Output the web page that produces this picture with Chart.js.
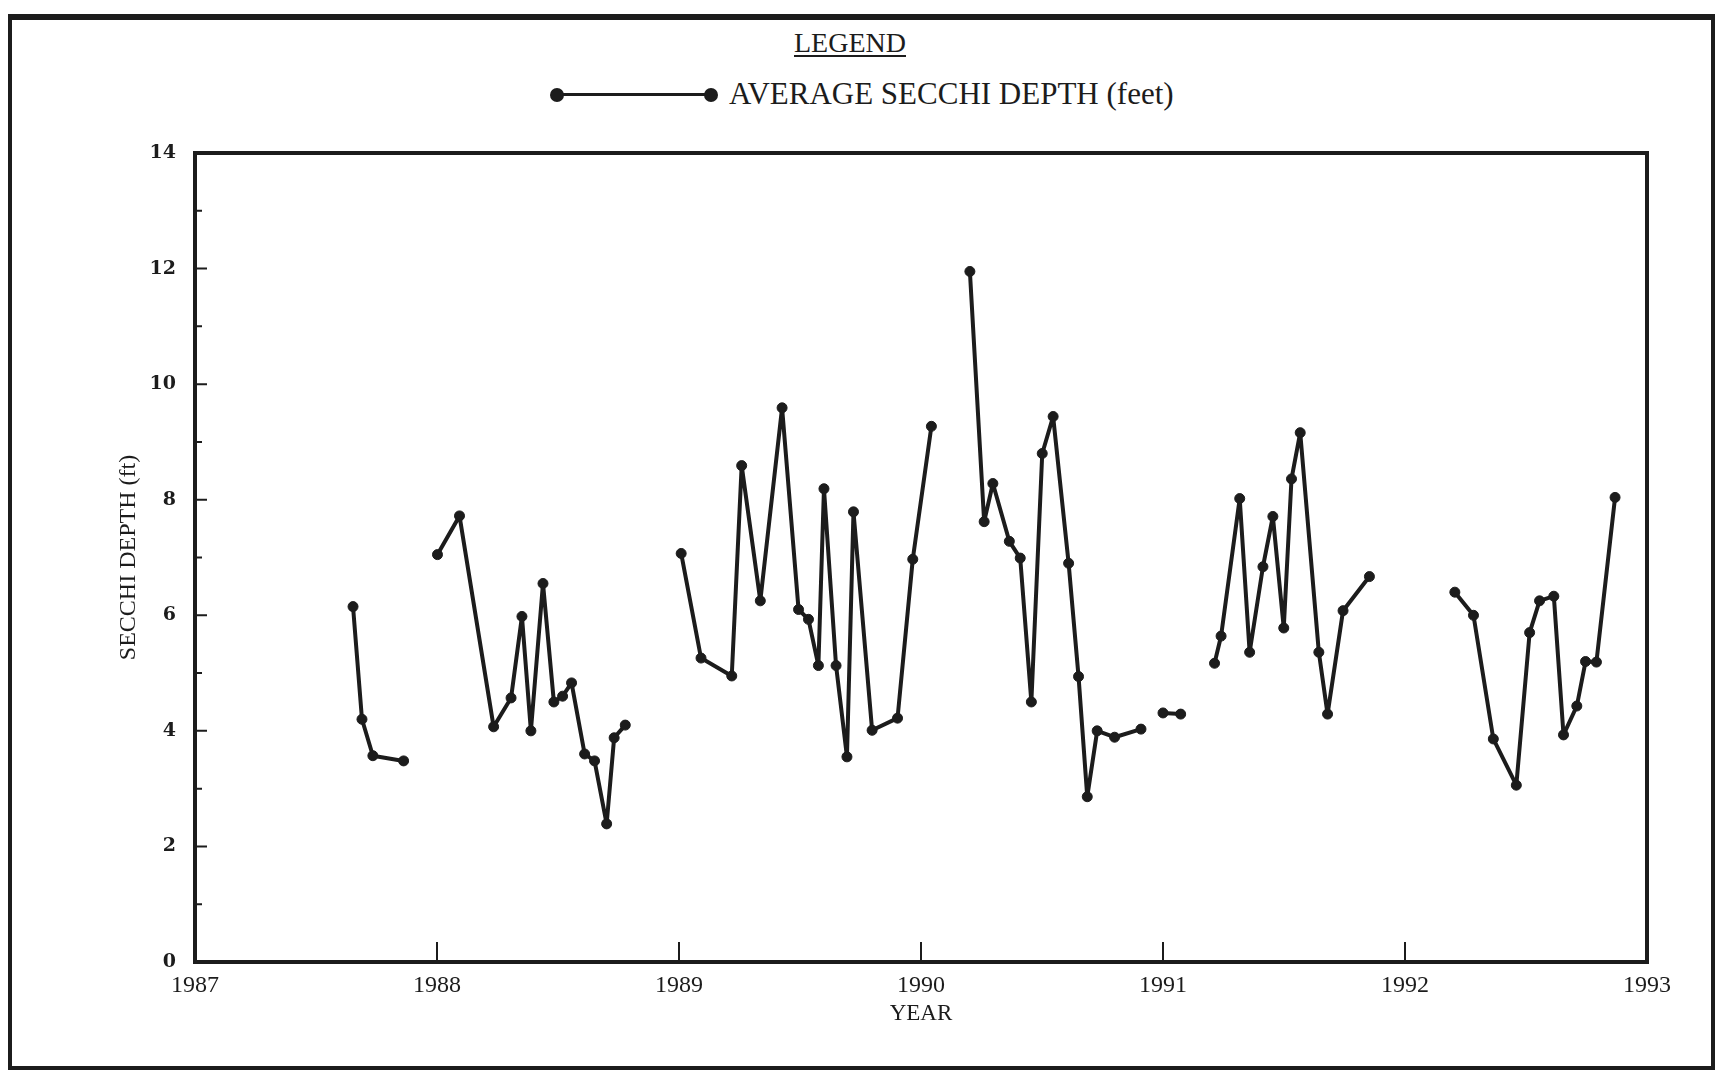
<!DOCTYPE html>
<html>
<head>
<meta charset="utf-8">
<title>Average Secchi Depth</title>
<script src="https://cdn.jsdelivr.net/npm/chart.js@4.4.1/dist/chart.umd.min.js"></script>
<style>
  html, body { margin: 0; padding: 0; background: #fff; }
  #page { position: relative; width: 1720px; height: 1072px; overflow: hidden; background: #fff; }
  #frame {
    position: absolute; left: 8px; top: 14px; width: 1699px; height: 1046px;
    border: 4px solid #1c1c1c; border-top-width: 6px;
  }
  #chart { position: absolute; left: 0; top: 0; }
  .legend-title {
    position: absolute; left: 0; top: 27px; width: 1700px; text-align: center;
    font: 28px "Liberation Serif", serif; color: #1c1c1c;
    text-decoration: underline; text-decoration-thickness: 2px; text-underline-offset: 3px;
  }
  .legend-item { position: absolute; left: 548px; top: 76px; height: 36px; }
  .legend-line { position: absolute; left: 8px; top: 17px; width: 154px; height: 3px; background: #1c1c1c; }
  .legend-dot { position: absolute; top: 12px; width: 14px; height: 14px; border-radius: 50%; background: #1c1c1c; }
  .legend-text {
    position: absolute; left: 181px; top: 0; white-space: nowrap;
    font: 31px "Liberation Serif", serif; color: #1c1c1c; line-height: 36px;
  }
</style>
</head>
<body>
<div id="page">
  <div id="frame"></div>
  <div class="legend-title">LEGEND</div>
  <div class="legend-item">
    <div class="legend-line"></div>
    <div class="legend-dot" style="left:2px"></div>
    <div class="legend-dot" style="left:156px"></div>
    <div class="legend-text">AVERAGE SECCHI DEPTH (feet)</div>
  </div>
  <canvas id="chart" width="1720" height="1072"></canvas>
</div>
<script>
// sampling dates in decimal years; null marks a break in the record
const sampleDates = [
  1987.653, 1987.690, 1987.735, 1987.862,
  null,
  1988.002, 1988.093, 1988.234, 1988.306, 1988.351, 1988.388, 1988.438, 1988.483,
  1988.519, 1988.556, 1988.610, 1988.651, 1988.701, 1988.732, 1988.778,
  null,
  1989.009, 1989.091, 1989.218, 1989.259, 1989.336, 1989.426, 1989.494, 1989.535,
  1989.576, 1989.599, 1989.649, 1989.694, 1989.721, 1989.798, 1989.903, 1989.966, 1990.043,
  null,
  1990.202, 1990.261, 1990.297, 1990.365, 1990.410, 1990.456, 1990.501, 1990.546,
  1990.610, 1990.651, 1990.687, 1990.728, 1990.800, 1990.909,
  null,
  1991.000, 1991.073,
  null,
  1991.213, 1991.240, 1991.317, 1991.358, 1991.413, 1991.454, 1991.499, 1991.531,
  1991.567, 1991.644, 1991.680, 1991.744, 1991.853,
  null,
  1992.206, 1992.283, 1992.365, 1992.460, 1992.515, 1992.556, 1992.615, 1992.655,
  1992.710, 1992.746, 1992.791, 1992.868
];

// average secchi depth (feet)
const secchiDepth = [
  6.15, 4.20, 3.57, 3.48,
  null,
  7.05, 7.72, 4.07, 4.57, 5.98, 4.00, 6.55, 4.50,
  4.60, 4.83, 3.60, 3.48, 2.39, 3.88, 4.10,
  null,
  7.07, 5.26, 4.95, 8.59, 6.25, 9.59, 6.10, 5.93,
  5.13, 8.19, 5.13, 3.55, 7.79, 4.01, 4.22, 6.97, 9.27,
  null,
  11.95, 7.62, 8.28, 7.28, 6.99, 4.50, 8.80, 9.44,
  6.90, 4.94, 2.86, 4.00, 3.89, 4.03,
  null,
  4.31, 4.29,
  null,
  5.17, 5.64, 8.02, 5.36, 6.84, 7.71, 5.78, 8.36,
  9.16, 5.36, 4.29, 6.08, 6.67,
  null,
  6.40, 6.00, 3.86, 3.06, 5.70, 6.25, 6.33, 3.93,
  4.43, 5.20, 5.19, 8.04
];

const yearTicks = [1987, 1988, 1989, 1990, 1991, 1992, 1993];
const depthTicks = [0, 2, 4, 6, 8, 10, 12, 14];

const ink = '#1c1c1c';
const serif = '"Liberation Serif", "Times New Roman", serif';

// plot box and tick marks pointing into the plot
const innerTicks = {
  id: 'innerTicks',
  beforeDatasetsDraw(chart) {
    const { ctx, chartArea: a, scales: { x, y } } = chart;
    ctx.save();
    ctx.strokeStyle = ink;
    ctx.lineWidth = 4;
    ctx.strokeRect(a.left, a.top, a.right - a.left, a.bottom - a.top);

    ctx.lineWidth = 2;
    ctx.beginPath();
    for (let v = y.min + 1; v < y.max; v++) {
      const py = y.getPixelForValue(v);
      const len = v % 2 === 0 ? 12 : 7;
      ctx.moveTo(a.left, py);
      ctx.lineTo(a.left + len, py);
    }
    x.ticks.forEach(t => {
      if (t.value <= x.min || t.value >= x.max) return;
      const px = x.getPixelForValue(t.value);
      ctx.moveTo(px, a.bottom);
      ctx.lineTo(px, a.bottom - 20);
    });
    ctx.stroke();
    ctx.restore();
  }
};

new Chart(document.getElementById('chart'), {
  type: 'line',
  data: {
    datasets: [{
      label: 'AVERAGE SECCHI DEPTH (feet)',
      data: sampleDates.map((d, i) => ({ x: d, y: secchiDepth[i] })),
      borderColor: ink,
      backgroundColor: ink,
      borderWidth: 4,
      borderJoinStyle: 'round',
      borderCapStyle: 'round',
      pointRadius: 5,
      pointBackgroundColor: ink,
      pointBorderColor: ink,
      pointBorderWidth: 1,
      spanGaps: false,
      tension: 0
    }]
  },
  options: {
    responsive: false,
    animation: false,
    layout: { padding: { left: 95, right: 73, top: 153, bottom: 0 } },
    plugins: {
      legend: { display: false },
      tooltip: { enabled: false }
    },
    scales: {
      x: {
        type: 'linear',
        min: yearTicks[0],
        max: yearTicks[yearTicks.length - 1],
        afterFit: s => { s.height = 110; },
        afterBuildTicks: s => { s.ticks = yearTicks.map(v => ({ value: v })); },
        grid: { display: false, drawTicks: false },
        border: { display: false },
        ticks: {
          padding: 9,
          color: ink,
          font: { family: serif, size: 24 },
          callback: v => String(v)
        },
        title: {
          display: true,
          text: 'YEAR',
          color: ink,
          font: { family: serif, size: 23 },
          padding: { top: 0, bottom: 44 }
        }
      },
      y: {
        min: depthTicks[0],
        max: depthTicks[depthTicks.length - 1],
        afterFit: s => { s.width = 100; },
        afterBuildTicks: s => { s.ticks = depthTicks.map(v => ({ value: v })); },
        grid: { display: false, drawTicks: false },
        border: { display: false },
        ticks: {
          padding: 19,
          color: ink,
          font: { family: '"DejaVu Serif", serif', size: 19, weight: 'bold' },
          callback: v => String(v)
        },
        title: {
          display: true,
          text: 'SECCHI DEPTH (ft)',
          color: ink,
          font: { family: serif, size: 24 },
          padding: { top: 19, bottom: 0 }
        }
      }
    }
  },
  plugins: [innerTicks]
});
</script>
</body>
</html>
